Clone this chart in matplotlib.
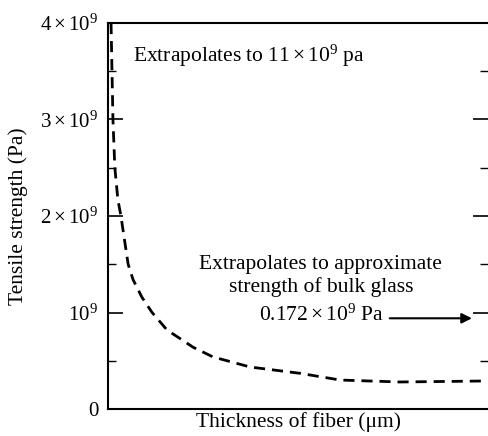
import matplotlib
matplotlib.use('Agg')
import matplotlib.pyplot as plt
from matplotlib.ticker import MultipleLocator

plt.rcParams['font.family'] = ['Liberation Serif', 'DejaVu Serif']
plt.rcParams['mathtext.fontset'] = 'custom'
plt.rcParams['mathtext.rm'] = 'Liberation Serif'
plt.rcParams['mathtext.it'] = 'Liberation Serif:italic'

# curve (thickness in arbitrary units, strength in Pa)
thickness = [0.8, 1.3, 1.8, 2.6, 3.4, 5.3, 6.6, 8.9, 11.6, 15.5, 22.4, 27.6,
             37.4, 50.5, 61.1, 76.8, 98.7]
strength = [4.0e9, 3.0e9, 2.5e9, 2.17e9, 2.0e9, 1.5e9, 1.34e9, 1.16e9, 1.0e9,
            0.82e9, 0.64e9, 0.54e9, 0.435e9, 0.37e9, 0.30e9, 0.28e9, 0.29e9]

ytick_vals = [0, 1e9, 2e9, 3e9, 4e9]
ytick_labels = ['0', r'$10^9$', r'$2\times10^9$', r'$3\times10^9$', r'$4\times10^9$']

fig = plt.figure(figsize=(4.88, 4.36), dpi=100)
ax = fig.add_axes([108 / 488, 27 / 436, 1 - 108 / 488, 386 / 436])

ax.plot(thickness, strength, color='black', lw=2, linestyle=(0, (4, 2.5)))

ax.set_xlim(0, 100)
ax.set_ylim(0, 4e9)
ax.set_xticks([])
ax.set_yticks(ytick_vals)
ax.set_yticklabels(ytick_labels, fontsize=15)
ax.yaxis.set_minor_locator(MultipleLocator(0.5e9))
ax.tick_params(axis='y', which='major', direction='in', length=11, width=1.2,
               left=True, right=True, pad=7)
ax.tick_params(axis='y', which='minor', direction='in', length=6, width=1.0,
               left=True, right=True)

ax.spines['right'].set_visible(False)
for s in ['left', 'bottom', 'top']:
    ax.spines[s].set_linewidth(1.5)

ax.set_ylabel('Tensile strength (Pa)', fontsize=15.5, labelpad=9)
ax.set_xlabel('Thickness of fiber (μm)', fontsize=15.5, labelpad=2)

ax.text(6.6, 3.66e9, r'Extrapolates to $11\times10^9$ pa', fontsize=15.5, va='center', ha='left')
ax.text(56, 1.38e9, 'Extrapolates to approximate\nstrength of bulk glass',
        fontsize=15.5, ha='center', va='center', linespacing=1.2)
ax.annotate('', xy=(96.5, 0.94e9), xytext=(73.4, 0.94e9),
            arrowprops=dict(arrowstyle='-|>', color='black', lw=1.5, mutation_scale=15))
ax.text(72.6, 0.97e9, r'$0.172\times10^9$ Pa', fontsize=15.5, ha='right', va='center')

fig.savefig('out.png', dpi=100)
